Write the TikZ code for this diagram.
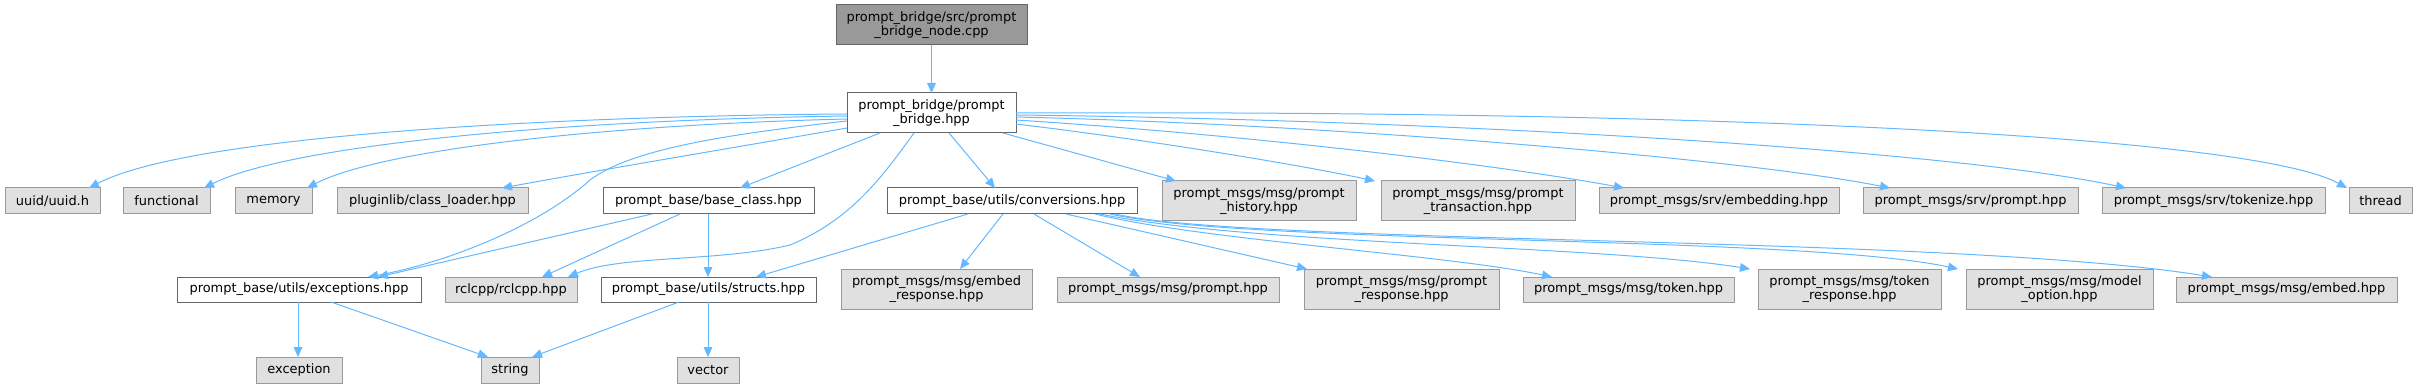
\documentclass[tikz,border=0pt]{standalone}
\usepackage{fontspec}
\setmainfont{DejaVu Sans}
\usetikzlibrary{arrows.meta}
\definecolor{edgec}{RGB}{99,184,255}
\definecolor{extfill}{RGB}{224,224,224}
\definecolor{extdraw}{RGB}{153,153,153}
\definecolor{intdraw}{RGB}{102,102,102}
\definecolor{topfill}{RGB}{153,153,153}
\newcommand\bx[7]{\node[#1, minimum width={(#5-#3)*0.75pt}, minimum height={(#6-#4)*0.75pt}] (#2) at ({(#3+#5)/2},{(#4+#6)/2}) {#7};}
\tikzset{
  base/.style={rectangle, inner sep=0pt, outer sep=0pt, align=center, line width=0.75pt,
    font=\fontsize{9.7}{10.6}\selectfont},
  intbox/.style={base, draw=intdraw, fill=white},
  extbox/.style={base, draw=extdraw, fill=extfill},
  topbox/.style={base, draw=intdraw, fill=topfill},
  edge/.style={draw=edgec, line width=0.75pt, -{Triangle[length=7.5pt,width=6.5pt]}, color=edgec}
}
\begin{document}
\begin{tikzpicture}[x=0.75pt,y=-0.75pt]
\useasboundingbox (0,0) rectangle (2418,388);
% row 0/1
\bx{topbox}{top}{836}{5}{1027}{45}{prompt\_bridge/src/prompt\\\_bridge\_node.cpp}
\bx{intbox}{pb}{847}{93}{1016}{133}{prompt\_bridge/prompt\\\_bridge.hpp}
% row 2
\bx{extbox}{uuid}{5}{188}{100}{214}{uuid/uuid.h}
\bx{extbox}{func}{123}{188}{210}{214}{functional}
\bx{extbox}{mem}{235}{188}{312}{214}{memory}
\bx{extbox}{cl}{337}{188}{528}{214}{pluginlib/class\_loader.hpp}
\bx{intbox}{bc}{603}{188}{814}{214}{prompt\_base/base\_class.hpp}
\bx{intbox}{conv}{887}{188}{1137}{214}{prompt\_base/utils/conversions.hpp}
\bx{extbox}{hist}{1162}{181}{1356}{221}{prompt\_msgs/msg/prompt\\\_history.hpp}
\bx{extbox}{trans}{1381}{181}{1575}{221}{prompt\_msgs/msg/prompt\\\_transaction.hpp}
\bx{extbox}{emb}{1599}{188}{1839}{214}{prompt\_msgs/srv/embedding.hpp}
\bx{extbox}{sprompt}{1863}{188}{2078}{214}{prompt\_msgs/srv/prompt.hpp}
\bx{extbox}{tok}{2102}{188}{2325}{214}{prompt\_msgs/srv/tokenize.hpp}
\bx{extbox}{thr}{2349}{188}{2412}{214}{thread}
% row 3
\bx{intbox}{exc}{177}{277}{421}{302}{prompt\_base/utils/exceptions.hpp}
\bx{extbox}{rcl}{445}{277}{577}{302}{rclcpp/rclcpp.hpp}
\bx{intbox}{str}{601}{277}{816}{302}{prompt\_base/utils/structs.hpp}
\bx{extbox}{er}{841}{269}{1032}{309}{prompt\_msgs/msg/embed\\\_response.hpp}
\bx{extbox}{mp}{1057}{277}{1279}{302}{prompt\_msgs/msg/prompt.hpp}
\bx{extbox}{pr}{1304}{269}{1499}{309}{prompt\_msgs/msg/prompt\\\_response.hpp}
\bx{extbox}{tk}{1523}{277}{1734}{302}{prompt\_msgs/msg/token.hpp}
\bx{extbox}{tr}{1758}{269}{1941}{309}{prompt\_msgs/msg/token\\\_response.hpp}
\bx{extbox}{mo}{1966}{269}{2153}{309}{prompt\_msgs/msg/model\\\_option.hpp}
\bx{extbox}{em}{2176}{277}{2397}{302}{prompt\_msgs/msg/embed.hpp}
% row 4
\bx{extbox}{exn}{256}{357}{342}{383}{exception}
\bx{extbox}{strg}{481}{357}{539}{383}{string}
\bx{extbox}{vec}{677}{357}{739}{383}{vector}
% edges
\draw[edge] (top) -- (pb);
\draw[edge] (pb.west |- 0,114) .. controls (560,116) and (190,135) .. (uuid.north -| 89,0);
\draw[edge] (pb.west |- 0,116) .. controls (560,120) and (290,145) .. (func.north -| 204,0);
\draw[edge] (pb.west |- 0,119) .. controls (600,125) and (380,150) .. (mem.north -| 307,0);
\draw[edge] (pb.west |- 0,128) .. controls (720,150) and (600,170) .. (cl.north -| 502,0);
\draw[edge] (pb.south -| 880,0) -- (bc.north -| 740,0);
\draw[edge] (pb.west |- 0,121) .. controls (720,135) and (630,150) .. (590,180) .. controls (540,225) and (450,262) .. (exc.north -| 368,0);
\draw[edge] (pb.south -| 914,0) .. controls (880,180) and (850,220) .. (790,245) .. controls (720,262) and (620,255) .. (rcl.north -| 568,0);
\draw[edge] (pb.south -| 949,0) -- (conv.north -| 995,0);
\draw[edge] (pb.south -| 1003,0) -- (hist.north -| 1176,0);
\draw[edge] (pb.east |- 0,124) .. controls (1150,140) and (1300,165) .. (trans.north -| 1375,0);
\draw[edge] (pb.east |- 0,120) .. controls (1250,135) and (1500,165) .. (emb.north -| 1624,0);
\draw[edge] (pb.east |- 0,117) .. controls (1350,125) and (1750,160) .. (sprompt.north -| 1890,0);
\draw[edge] (pb.east |- 0,115) .. controls (1450,120) and (1950,150) .. (tok.north -| 2126,0);
\draw[edge] (pb.east |- 0,113) .. controls (1700,110) and (2250,135) .. (thr.north -| 2347,0);
% base_class
\draw[edge] (bc.south -| 652,0) -- (exc.north -| 378,0);
\draw[edge] (bc.south -| 680,0) -- (rcl.north -| 542,0);
\draw[edge] (bc.south -| 708,0) -- (str.north -| 708,0);
% conversions
\draw[edge] (conv.south -| 968,0) -- (str.north -| 756,0);
\draw[edge] (conv.south -| 1003,0) -- (er.north -| 960,0);
\draw[edge] (conv.south -| 1034,0) -- (mp.north -| 1140,0);
\draw[edge] (conv.south -| 1066,0) -- (pr.north -| 1307,0);
\draw[edge] (conv.south -| 1095,0) .. controls (1200,240) and (1450,255) .. (tk.north -| 1552,0);
\draw[edge] (conv.south -| 1100,0) .. controls (1250,245) and (1600,245) .. (tr.north -| 1750,0);
\draw[edge] (conv.south -| 1110,0) .. controls (1250,245) and (1800,235) .. (mo.north -| 1958,0);
\draw[edge] (conv.south -| 1115,0) .. controls (1250,245) and (1950,235) .. (em.north -| 2212,0);
% row 4
\draw[edge] (exc.south -| 298,0) -- (exn.north -| 298,0);
\draw[edge] (exc.south -| 331,0) -- (strg.north -| 488,0);
\draw[edge] (str.south -| 679,0) -- (strg.north -| 532,0);
\draw[edge] (str.south -| 708,0) -- (vec.north -| 708,0);
\end{tikzpicture}
\end{document}
